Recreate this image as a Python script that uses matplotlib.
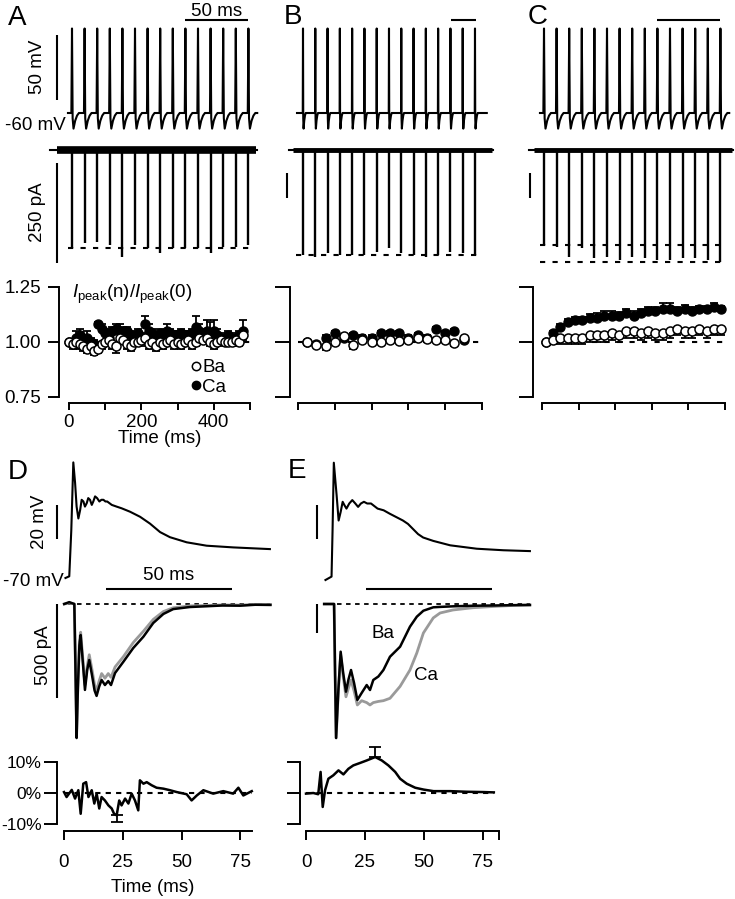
import matplotlib
matplotlib.use("Agg")
import matplotlib.pyplot as plt
from matplotlib.lines import Line2D

plt.rcParams['font.family'] = ['Liberation Sans', 'DejaVu Sans']
plt.rcParams['mathtext.fontset'] = 'custom'
plt.rcParams['mathtext.rm'] = 'Liberation Sans'
plt.rcParams['mathtext.it'] = 'Liberation Sans:italic'

# ------------------------------------------------------------------ data
# stimulus / spike times (ms) of the trains in A, B, C
spikes_A = [0, 10, 20, 30, 40, 50, 60, 70, 80, 90, 100, 110, 120, 130, 140]
spikes_B = [0, 25, 50, 75, 100, 125, 150, 175, 200, 225, 250, 275, 300, 325, 350]
spikes_C = [0, 10, 20, 30, 40, 50, 60, 70, 80, 90, 100, 110, 120, 130, 140]
# action-potential waveform (offset in ms, mV relative to -60 mV)
ap_dt = [-0.5, 0.0, 0.5, 1.2, 2.5, 4.0, 5.5]
ap_dv = [0.0, 65.0, -4.0, -12.0, -6.0, -2.0, 0.0]
# peak currents (pA) evoked by each spike
epsc_A = [-245, -232, -230, -237, -268, -237, -245, -258, -245, -245, -245, -258, -242, -242, -237]
epsc_B = [-1050, -1067, -1033, -1050, -1050, -1050, -1017, -983, -1033, -1050, -1067, -1050, -1017, -1033, -1050]
epsc_C = [-950, -967, -1067, -983, -1083, -1067, -1100, -1067, -1083, -1100, -1100, -1083, -1083, -1100, -1117]

# Ipeak(n)/Ipeak(0)
time_A = [0, 10, 20, 30, 40, 50, 60, 70, 80, 90, 100, 110, 120, 130, 140, 150, 160, 170, 180, 190,
          200, 210, 220, 230, 240, 250, 260, 270, 280, 290, 300, 310, 320, 330, 340, 350, 360, 370,
          380, 390, 400, 410, 420, 430, 440, 450, 460, 470, 480]
ca_A = [1.00, 0.99, 1.02, 1.03, 1.01, 1.02, 1.00, 0.99, 1.08, 1.06,
        1.04, 1.02, 1.05, 1.06, 1.05, 1.04, 1.05, 1.03, 1.02, 1.04,
        1.02, 1.08, 1.05, 1.04, 1.02, 1.04, 1.03, 1.05, 1.04, 1.02,
        1.03, 1.04, 1.03, 1.02, 1.04, 1.07, 1.05, 1.03, 1.05, 1.04,
        1.05, 1.03, 1.02, 1.01, 1.03, 1.02, 1.01, 1.03, 1.05]
ca_A_err = [0.00, 0.02, 0.03, 0.03, 0.02, 0.03, 0.02, 0.02, 0.01, 0.02,
            0.02, 0.03, 0.02, 0.02, 0.03, 0.03, 0.02, 0.02, 0.02, 0.02,
            0.02, 0.04, 0.03, 0.02, 0.02, 0.02, 0.02, 0.03, 0.02, 0.03,
            0.02, 0.02, 0.02, 0.03, 0.02, 0.05, 0.03, 0.03, 0.05, 0.05,
            0.05, 0.03, 0.02, 0.02, 0.02, 0.02, 0.02, 0.02, 0.05]
ba_A = [1.00, 0.99, 1.00, 0.99, 0.98, 0.97, 0.98, 0.96, 0.97, 0.99,
        1.00, 1.01, 0.99, 0.98, 1.02, 1.01, 0.99, 0.98, 1.00, 1.00,
        1.01, 1.02, 0.99, 1.00, 0.98, 1.00, 0.99, 1.00, 1.01, 0.99,
        1.00, 0.99, 1.00, 1.01, 0.99, 1.00, 1.02, 1.01, 1.02, 1.00,
        0.99, 1.00, 1.01, 1.00, 1.00, 1.00, 1.01, 1.00, 1.03]
ba_A_err = [0.00, 0.02, 0.02, 0.02, 0.02, 0.02, 0.02, 0.02, 0.02, 0.02,
            0.02, 0.03, 0.02, 0.03, 0.02, 0.02, 0.02, 0.02, 0.02, 0.02,
            0.03, 0.03, 0.02, 0.02, 0.02, 0.02, 0.02, 0.02, 0.02, 0.02,
            0.02, 0.02, 0.02, 0.02, 0.02, 0.02, 0.02, 0.02, 0.02, 0.02,
            0.02, 0.02, 0.02, 0.02, 0.02, 0.02, 0.02, 0.02, 0.02]

time_B = [25, 50, 75, 100, 125, 150, 175, 200, 225, 250, 275, 300, 325, 350, 375, 400, 425, 450]
ca_B = [1.00, 0.99, 1.02, 1.04, 1.02, 1.03, 1.02, 1.02, 1.04, 1.04, 1.04, 1.02, 1.03, 1.02, 1.06, 1.04, 1.05, 1.01]
ca_B_err = [0.00, 0.01, 0.01, 0.01, 0.01, 0.01, 0.01, 0.01, 0.01, 0.01, 0.01, 0.01, 0.01, 0.01, 0.01, 0.01, 0.01, 0.01]
ba_B = [1.00, 0.985, 0.98, 1.00, 1.025, 0.985, 1.01, 1.00, 1.00, 1.01, 1.005, 1.01, 1.02, 1.015, 1.01, 1.01, 0.995, 1.02]
ba_B_err = [0.00, 0.01, 0.015, 0.01, 0.01, 0.015, 0.01, 0.01, 0.01, 0.01, 0.01, 0.01, 0.01, 0.01, 0.01, 0.01, 0.015, 0.015]

time_C = [10, 30, 50, 70, 90, 110, 130, 150, 170, 190, 210, 230, 250, 270, 290, 310, 330, 350,
          370, 390, 410, 430, 450, 470, 490]
ca_C = [1.00, 1.04, 1.07, 1.09, 1.10, 1.10, 1.11, 1.11, 1.12, 1.12, 1.12, 1.13, 1.12, 1.13, 1.14,
        1.14, 1.15, 1.15, 1.14, 1.15, 1.14, 1.15, 1.15, 1.16, 1.15]
ca_C_err = [0.00, 0.01, 0.01, 0.015, 0.015, 0.015, 0.015, 0.02, 0.02, 0.02, 0.015, 0.02, 0.02,
            0.02, 0.02, 0.02, 0.025, 0.025, 0.02, 0.02, 0.02, 0.015, 0.015, 0.015, 0.015]
ba_C = [1.00, 1.01, 1.02, 1.02, 1.02, 1.02, 1.03, 1.03, 1.03, 1.04, 1.03, 1.05, 1.05, 1.04, 1.05,
        1.04, 1.04, 1.05, 1.06, 1.05, 1.05, 1.06, 1.05, 1.06, 1.06]
ba_C_err = [0.00, 0.02, 0.03, 0.03, 0.03, 0.03, 0.03, 0.03, 0.03, 0.03, 0.03, 0.03, 0.03, 0.03,
            0.03, 0.03, 0.03, 0.03, 0.03, 0.03, 0.03, 0.03, 0.03, 0.03, 0.03]

# D: voltage command (mV) and currents (pA)
tD_v = [-1.0, 0.5, 1.3, 2.1, 2.8, 3.4, 4.1, 4.8, 5.4, 6.1, 6.7, 7.4, 8.0, 8.7, 9.4, 10.0, 10.7, 11.5,
        12.4, 13.2, 14.0, 14.8, 15.5, 16.4, 17.3, 19.2, 21.2, 24.5, 28.5, 32.4, 36.4, 40.3, 46.9,
        54.8, 65.3, 79.8]
vD = [-70, -69, -42, -2, -14, -28, -35, -30, -24, -25, -28, -26, -23, -24, -27, -25, -22, -23,
      -25, -24, -24, -25, -25, -26, -27, -28, -29, -31, -34, -38, -43, -46, -49, -51, -52, -53]
tD_i = [-1.5, 0.5, 2.5, 2.9, 3.4, 3.9, 4.5, 5.0, 5.8, 6.7, 7.6, 8.4, 9.5, 10.5, 11.3, 12.3, 13.3,
        14.6, 15.9, 17.0, 18.6, 21.9, 25.8, 29.8, 33.7, 37.7, 41.6, 48.2, 54.8, 61.0, 68.0, 74.0, 80.0]
iD_ba = [0, 10, 0, -300, -713, -450, -220, -165, -300, -457, -350, -298, -380, -460, -489, -440,
         -404, -431, -410, -431, -367, -307, -234, -174, -101, -53, -27, -16, -12, -8, -9, -4, -5]
iD_ca = [0, 5, 0, -300, -700, -430, -200, -150, -280, -430, -330, -270, -350, -430, -460, -410,
         -370, -395, -370, -390, -335, -280, -205, -145, -82, -40, -20, -10, -8, -5, -6, -2, -3]
# E
tE_v = [-1.0, 1.4, 1.8, 2.3, 3.4, 4.2, 5.0, 5.8, 6.5, 7.3, 8.4, 9.6, 10.8, 11.9, 13.0, 14.2, 15.5,
        17.0, 19.6, 22.0, 24.4, 27.0, 29.6, 31.6, 33.6, 35.6, 37.6, 41.6, 48.3, 58.8, 69.3, 79.8]
vE = [-70, -68, -41, -1, -20, -35, -30, -24, -26, -28, -25, -23, -25, -27, -25, -24, -25, -25,
      -28, -29, -31, -33, -35, -37, -40, -43, -45, -47, -49.6, -51.6, -52.5, -53]
tE_i = [-1.5, 1.5, 2.4, 2.8, 3.2, 4.1, 5.0, 6.0, 7.1, 8.1, 9.1, 10.3, 11.6, 13.3, 15.3, 16.6, 17.9,
        19.9, 21.9, 24.5, 28.5, 32.4, 35.1, 37.7, 41.6, 44.3, 49.4, 57.3, 66.5, 73.0, 79.8]
iE_ba = [0, 0, 0, -1200, -2310, -1483, -822, -1190, -1512, -1300, -1138, -1362, -1655, -1534,
         -1397, -1483, -1310, -1250, -1138, -909, -736, -391, -219, -116, -57, -50, -40, -30, -25,
         -20, -17]
iE_ca = [0, 0, 0, -1200, -2310, -1500, -880, -1250, -1600, -1450, -1310, -1500, -1741, -1667,
         -1700, -1741, -1700, -1680, -1667, -1626, -1420, -1138, -845, -500, -240, -155, -103, -64,
         -40, -25, -17]
# (Ca - Ba) difference (%)
tD_d = [0.0, 1.1, 3.3, 4.7, 6.1, 7.1, 8.2, 9.4, 10.4, 11.8, 12.9, 13.9, 15.0, 16.0, 17.4, 18.9,
        20.3, 21.3, 22.4, 23.5, 24.5, 26.0, 27.4, 28.8, 30.2, 31.6, 32.3, 33.8, 35.2, 37.3, 39.4,
        42.3, 45.1, 48.0, 52.2, 54.3, 56.5, 59.3, 63.5, 67.8, 72.0, 74.2, 76.3, 79.9]
dD = [0.3, -1.3, 1.0, -1.8, 0.9, -6.7, 3.0, 3.5, -1.3, 0.9, -3.4, -0.2, -5.0, -1.3, -2.4, -4.0,
      -5.0, -6.7, -7.2, -2.4, -4.0, -1.8, -3.4, -0.2, -2.4, -5.6, 4.1, 3.0, 3.5, 2.5, 1.7, 1.4,
      0.9, 0.3, -0.4, -2.4, -0.8, 0.9, -0.2, 0.6, -0.2, 1.7, -0.8, 0.6]
dD_err_t, dD_err_v, dD_err = [22.4], [-7.2], [2.1]
tE_d = [0.0, 3.1, 5.2, 6.2, 7.1, 8.1, 9.5, 11.6, 13.8, 15.9, 18.0, 20.1, 23.0, 25.8, 29.4, 32.2,
        35.0, 37.9, 40.0, 42.8, 46.4, 50.0, 54.2, 61.3, 68.4, 75.5, 79.8]
dE = [-0.2, 0.0, -0.4, 6.8, -4.5, 0.9, 4.6, 5.7, 7.3, 6.0, 7.8, 8.9, 9.7, 10.5, 11.6, 10.5, 8.9,
      6.8, 4.6, 3.0, 1.7, 1.1, 0.6, 0.6, 0.4, 0.3, 0.2]
dE_err_t, dE_err_v, dE_err = [29.4], [11.6], [3.3]

# ------------------------------------------------------------------ figure
W, H = 735, 899
fig = plt.figure(figsize=(W / 100, H / 100), dpi=100)
K = 'black'
GREY = '#9a9a9a'
FS = 13.5
LW = 1.5
DASH = (0, (2.5, 3.5))


def map_axes(box, xref, yref):
    """box=(left, top, right, bottom) px; xref/yref=(px, value, px_per_unit)"""
    l, t, r, b = box
    xp, xv, xs = xref
    yp, yv, ys = yref
    ax = fig.add_axes([l / W, 1 - b / H, (r - l) / W, (b - t) / H])
    ax.set_xlim(xv + (l - xp) / xs, xv + (r - xp) / xs)
    ax.set_ylim(yv - (b - yp) / ys, yv + (yp - t) / ys)
    ax.axis('off')
    return ax


def ftext(x, y, s, **kw):
    kw.setdefault('fontsize', FS)
    fig.text(x / W, 1 - y / H, s, **kw)


def ap_train(spikes, t0, t1, base):
    t, v = [t0], [base]
    for s in spikes:
        t += [s + d for d in ap_dt]
        v += [base + d for d in ap_dv]
    t.append(t1)
    v.append(base)
    return t, v


def bar(ax, xs, ys):
    ax.plot(xs, ys, color=K, lw=LW, clip_on=False, solid_capstyle='butt')


# ---------- row 1: voltage trains
for (box_l, box_r, x0, sx, spikes, tb0, tb1, vbar, tbar) in [
        (30, 265, 72, 1.26, spikes_A, -3.2, 147, True, (90, 140)),
        (270, 500, 303, 0.4914, spikes_B, -12.2, 374, False, (302, 352)),
        (505, 735, 544, 1.26, spikes_C, -3.2, 147, False, (90, 140))]:
    ax = map_axes((box_l, 0, box_r, 140), (x0, 0, sx), (113, -60, 1.3))
    t, v = ap_train(spikes, tb0, tb1, -60)
    ax.plot(t, v, color=K, lw=LW)
    bar(ax, list(tbar), [11.5, 11.5])
    if vbar:
        bar(ax, [-11.9, -11.9], [-50, 0])

ftext(217, 11, '50 ms', ha='center', va='center')
ftext(38, 67, '50 mV', ha='center', va='center', rotation=90)
ftext(66, 125, '-60 mV', ha='right', va='center')

# ---------- row 2: current trains
for (box_l, box_r, x0, sx, yscale, spikes, amps, base_rng, band_rng, band_lw, dash_rng,
     extra_dash, sbar) in [
        (30, 265, 72, 1.26, 0.4, spikes_A, epsc_A, (-17.5, 147), (-12, 146), 5.5, (-3.2, 143),
         False, (-11.9, -32, -282)),
        (270, 500, 303, 0.4914, 0.1, spikes_B, epsc_B, (-28, 387), (-20, 385), 3.5, (-14, 360),
         False, (-32.6, -230, -480)),
        (505, 735, 544, 1.26, 0.1, spikes_C, epsc_C, (-11.9, 150), (-8, 149), 3.5, (-3.2, 145),
         True, (-11.1, -230, -480))]:
    ax = map_axes((box_l, 135, box_r, 275), (x0, 0, sx), (150, 0, yscale))
    ax.plot(base_rng, [0, 0], color=K, lw=LW)
    ax.plot(band_rng, [0, 0], color=K, lw=band_lw, solid_capstyle='butt')
    ax.vlines(spikes, 0, amps, color=K, lw=1.7)
    ax.plot(dash_rng, [amps[0], amps[0]], color=K, lw=LW, ls=DASH)
    if extra_dash:
        ax.plot(dash_rng, [amps[-1], amps[-1]], color=K, lw=LW, ls=DASH)
    bar(ax, [sbar[0], sbar[0]], [sbar[1], sbar[2]])

ftext(38, 212, '250 pA', ha='center', va='center', rotation=90)


# ---------- row 3: Ipeak plots
def ipeak_axes(box, spine_px, ytick_len):
    l, t, r, b = box
    ax = fig.add_axes([l / W, 1 - b / H, (r - l) / W, (b - t) / H])
    ax.set_xlim(0, 500)
    ax.set_ylim(0.75, 1.25)
    for s in ['top', 'right']:
        ax.spines[s].set_visible(False)
    ax.spines['left'].set_position(('outward', (l - spine_px) * 0.72))
    ax.spines['bottom'].set_position(('outward', 6 * 0.72))
    ax.spines['left'].set_bounds(0.75, 1.25)
    ax.spines['bottom'].set_bounds(0, 500)
    for s in ['left', 'bottom']:
        ax.spines[s].set_linewidth(1.4)
    ax.set_yticks([0.75, 1.00, 1.25])
    ax.set_xticks([0, 100, 200, 300, 400, 500])
    ax.tick_params(axis='y', length=ytick_len, width=1.4, pad=5, labelsize=FS)
    ax.tick_params(axis='x', length=5, width=1.4, pad=3, labelsize=FS)
    ax.patch.set_visible(False)
    ax.plot([0, 500], [1, 1], color=K, lw=LW, ls=DASH)
    return ax


def ipeak_series(ax, t, ca, ca_err, ba, ba_err):
    z = [0] * len(t)
    ax.errorbar(t, ca, yerr=[z, ca_err], fmt='none', ecolor=K, elinewidth=1.3, capsize=3,
                capthick=1.3, clip_on=False)
    ax.plot(t, ca, 'o', mfc=K, mec=K, ms=6.5, clip_on=False)
    ax.errorbar(t, ba, yerr=[ba_err, z], fmt='none', ecolor=K, elinewidth=1.3, capsize=3,
                capthick=1.3, clip_on=False)
    ax.plot(t, ba, 'o', mfc='white', mec=K, mew=1.1, ms=6.5, clip_on=False)


axA = ipeak_axes((69, 287, 250, 397), 59, 8)
axA.set_yticklabels(['0.75', '1.00', '1.25'])
axA.set_xticklabels(['0', '', '200', '', '400', ''])
ipeak_series(axA, time_A, ca_A, ca_A_err, ba_A, ba_A_err)
handles = [Line2D([], [], marker='o', ls='', mfc='white', mec=K, mew=1.1, ms=6),
           Line2D([], [], marker='o', ls='', mfc=K, mec=K, ms=6)]
axA.legend(handles, ['Ba', 'Ca'], loc='upper left', bbox_to_anchor=(191 / W, 1 - 359 / H),
           bbox_transform=fig.transFigure, frameon=False, fontsize=FS, handlelength=0.5,
           handletextpad=0.1, labelspacing=0.12, borderpad=0, borderaxespad=0)
ftext(72, 294, r'$I_{\mathrm{peak}}$(n)/$I_{\mathrm{peak}}$(0)', ha='left', va='center')
ftext(160, 438, 'Time (ms)', ha='center', va='center')

axB = ipeak_axes((298, 287, 482, 397), 290, 11)
axB.set_yticklabels([])
axB.set_xticklabels([])
ipeak_series(axB, time_B, ca_B, ca_B_err, ba_B, ba_B_err)

axC = ipeak_axes((542, 287, 725, 397), 533, 10)
axC.set_yticklabels([])
axC.set_xticklabels([])
ipeak_series(axC, time_C, ca_C, ca_C_err, ba_C, ba_C_err)

# ---------- D / E voltage
axDv = map_axes((20, 450, 285, 600), (68, 0, 2.53), (578, -70, 1.7))
axDv.plot(tD_v, vD, color=K, lw=LW)
bar(axDv, [-4.35, -4.35], [-47, -27])
bar(axDv, [15, 65], [-76.5, -76.5])
ftext(40, 522, '20 mV', ha='center', va='center', rotation=90)
ftext(64, 581, '-70 mV', ha='right', va='center')
ftext(169, 575, '50 ms', ha='center', va='center')

axEv = map_axes((290, 450, 545, 600), (328, 0, 2.53), (580, -70, 1.7))
axEv.plot(tE_v, vE, color=K, lw=LW)
bar(axEv, [-4.35, -4.35], [-46, -26])
bar(axEv, [15, 65], [-75.3, -75.3])

# ---------- D / E currents
axDi = map_axes((20, 595, 285, 745), (68, 0, 2.53), (604, 0, 0.188))
axDi.plot([0, 80], [0, 0], color=K, lw=1.3, ls=(0, (2.5, 2.5)))
axDi.plot(tD_i, iD_ca, color=GREY, lw=2.0)
axDi.plot(tD_i, iD_ba, color=K, lw=1.8)
bar(axDi, [-4.35, -4.35], [0, -500])
ftext(43, 655, '500 pA', ha='center', va='center', rotation=90)

axEi = map_axes((290, 595, 545, 745), (328, 0, 2.53), (604, 0, 0.058))
axEi.plot([0, 80], [0, 0], color=K, lw=1.3, ls=(0, (2.5, 2.5)))
axEi.plot(tE_i, iE_ca, color=GREY, lw=2.0)
axEi.plot(tE_i, iE_ba, color=K, lw=1.8)
bar(axEi, [-4.35, -4.35], [0, -500])
ftext(383, 634, 'Ba', ha='center', va='center')
ftext(426, 676, 'Ca', ha='center', va='center')


# ---------- D / E difference
def diff_axes(box, spine_px, xmax, xticks, xlabels, ylabels):
    l, t, r, b = box
    ax = fig.add_axes([l / W, 1 - b / H, (r - l) / W, (b - t) / H])
    ax.set_xlim(0, xmax)
    ax.set_ylim(-10, 10)
    for s in ['top', 'right']:
        ax.spines[s].set_visible(False)
    ax.spines['left'].set_position(('outward', (l - spine_px) * 0.72))
    ax.spines['bottom'].set_position(('outward', 7 * 0.72))
    ax.spines['left'].set_bounds(-10, 10)
    ax.spines['bottom'].set_bounds(0, xmax)
    for s in ['left', 'bottom']:
        ax.spines[s].set_linewidth(1.4)
    ax.set_yticks([-10, 0, 10])
    ax.set_yticklabels(ylabels)
    ax.set_xticks(xticks)
    ax.set_xticklabels(xlabels)
    ax.tick_params(axis='y', length=9.5, width=1.4, pad=1.5, labelsize=12.5)
    ax.tick_params(axis='x', length=6.5, width=1.4, pad=10, labelsize=FS)
    ax.patch.set_visible(False)
    ax.plot([0, 80], [0, 0], color=K, lw=LW, ls=(0, (2.5, 2.5)))
    return ax


axDd = diff_axes((64, 762, 252, 824), 57, 80, [0, 25, 50, 75], ['0', '25', '50', '75'],
                 ['-10%', '0%', '10%'])
axDd.plot(tD_d, dD, color=K, lw=1.8, clip_on=False)
axDd.errorbar(dD_err_t, dD_err_v, yerr=[dD_err, [0]], fmt='none', ecolor=K, elinewidth=1.3,
              capsize=4, capthick=1.3, clip_on=False)
ftext(153, 888, 'Time (ms)', ha='center', va='center')

axEd = diff_axes((306, 762, 499, 824), 300, 82, [0, 25, 50, 75, 82], ['0', '25', '50', '75', ''],
                 ['', '', ''])
axEd.plot(tE_d, dE, color=K, lw=1.8, clip_on=False)
axEd.errorbar(dE_err_t, dE_err_v, yerr=[[0], dE_err], fmt='none', ecolor=K, elinewidth=1.3,
              capsize=4, capthick=1.3, clip_on=False)

# ---------- panel letters
for (x, y, s) in [(8, 25, 'A'), (284, 24, 'B'), (528, 24, 'C'), (8, 479, 'D'), (288, 478, 'E')]:
    ftext(x, y, s, fontsize=20, ha='left', va='baseline')

fig.savefig('out.png', dpi=100, facecolor='white')
